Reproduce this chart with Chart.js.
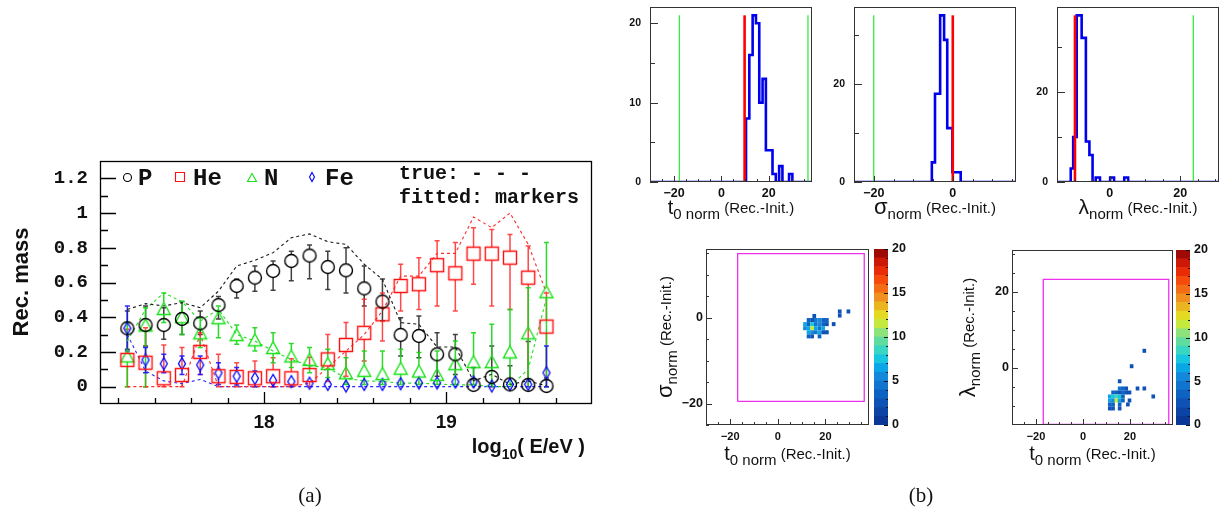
<!DOCTYPE html>
<html>
<head>
<meta charset="utf-8">
<script src="https://cdn.jsdelivr.net/npm/chart.js@4.4.1/dist/chart.umd.min.js"></script>
<style>
  html, body { margin: 0; padding: 0; background: #fff; }
  #stage { position: relative; width: 1232px; height: 522px; overflow: hidden; }
  #stage canvas { position: absolute; left: 0; top: 0; }
  .cap { position: absolute; top: 483px; font-family: 'Liberation Serif', 'DejaVu Serif', serif; font-size: 21px; color: #111; transform: translateX(-50%); }
</style>
</head>
<body>
<div id="stage">
  <canvas id="massChart" width="1232" height="522"></canvas>
  <canvas id="t0Hist" width="1232" height="522"></canvas>
  <canvas id="sigHist" width="1232" height="522"></canvas>
  <canvas id="lamHist" width="1232" height="522"></canvas>
  <canvas id="sigMap" width="1232" height="522"></canvas>
  <canvas id="sigScale" width="1232" height="522"></canvas>
  <canvas id="lamMap" width="1232" height="522"></canvas>
  <canvas id="lamScale" width="1232" height="522"></canvas>
  <div class="cap" style="left:310px">(a)</div>
  <div class="cap" style="left:921px">(b)</div>
</div>
<script>
const SANS = "'Liberation Sans', Arial, sans-serif";
const MONO = "'Liberation Mono', 'Courier New', monospace";
Chart.defaults.font.family = SANS;
Chart.defaults.color = "#111";

// ---------- (a) reconstructed mass vs energy ----------
const logE = [17.25, 17.35, 17.45, 17.55, 17.65, 17.75, 17.85, 17.95, 18.05, 18.15, 18.25, 18.35,
              18.45, 18.55, 18.65, 18.75, 18.85, 18.95, 19.05, 19.15, 19.25, 19.35, 19.45, 19.55];

const fitP   = [0.336, 0.355, 0.355, 0.39, 0.365, 0.47, 0.58, 0.628, 0.666, 0.724, 0.755, 0.689, 0.67, 0.566, 0.49, 0.298, 0.292, 0.186, 0.186, 0.01, 0.056, 0.013, 0.01, 0.004];
const fitPHi = [0.436, 0.465, 0.455, 0.49, 0.436, 0.52, 0.62, 0.695, 0.724, 0.78, 0.816, 0.78, 0.80, 0.695, 0.62, 0.397, 0.407, 0.31, 0.30, 0.11, 0.234, 0.12, 0.26, 0.05];
const fitPLo = [0.215, 0.234, 0.273, 0.30, 0.30, 0.39, 0.51, 0.55, 0.555, 0.61, 0.622, 0.56, 0.54, 0.465, 0.38, 0.177, 0.167, 0.06, 0.07, 0, 0, 0, 0, 0];
const trueP  = [0.445, 0.478, 0.465, 0.484, 0.455, 0.55, 0.695, 0.728, 0.772, 0.858, 0.88, 0.835, 0.82, 0.705, 0.618, 0.369, 0.359, 0.228, 0.228, 0.033, 0.071, 0.013, 0.033, 0.004];

const fitHe   = [0.154, 0.138, 0.048, 0.067, 0.20, 0.06, 0.056, 0.048, 0.06, 0.048, 0.067, 0.157, 0.24, 0.31, 0.417, 0.58, 0.59, 0.70, 0.653, 0.766, 0.766, 0.743, 0.628, 0.346];
const fitHeHi = [0.33, 0.34, 0.24, 0.225, 0.31, 0.186, 0.138, 0.148, 0.167, 0.16, 0.17, 0.30, 0.37, 0.503, 0.54, 0.705, 0.743, 0.84, 0.83, 0.916, 0.906, 0.877, 0.81, 0.54];
const fitHeLo = [0, 0, 0, 0, 0.07, 0, 0, 0, 0, 0, 0, 0.03, 0.06, 0.148, 0.263, 0.436, 0.445, 0.465, 0.436, 0.59, 0.465, 0.445, 0, 0];
const trueHe  = [0, 0, 0, 0, 0.30, 0, 0, 0, 0, 0, 0.02, 0.11, 0.205, 0.30, 0.436, 0.637, 0.637, 0.768, 0.768, 0.977, 0.916, 1.0, 0.82, 0.54];

const fitN   = [0.177, 0.355, 0.45, 0.403, 0.31, 0.397, 0.30, 0.27, 0.225, 0.177, 0.157, 0.134, 0.08, 0.094, 0.075, 0.106, 0.09, 0.071, 0.132, 0.144, 0.144, 0.20, 0.31, 0.547];
const fitNHi = [0.37, 0.455, 0.54, 0.49, 0.397, 0.465, 0.355, 0.34, 0.31, 0.248, 0.225, 0.215, 0.167, 0.205, 0.205, 0.215, 0.196, 0.205, 0.263, 0.31, 0.36, 0.445, 0.57, 0.83];
const fitNLo = [0, 0, 0.37, 0.30, 0.225, 0.282, 0.244, 0.205, 0.138, 0.11, 0.08, 0.052, 0.013, 0.013, 0.013, 0.013, 0.013, 0.013, 0.013, 0.013, 0.013, 0.013, 0, 0];
const trueN  = [0.263, 0.445, 0.54, 0.49, 0.378, 0.445, 0.30, 0.263, 0.205, 0.157, 0.12, 0.11, 0.048, 0.033, 0.03, 0.02, 0.02, 0.015, 0.01, 0.01, 0, 0, 0.1, 0.51];

const fitFe   = [0.336, 0.154, 0.132, 0.132, 0.125, 0.079, 0.06, 0.048, 0.036, 0.029, 0.02, 0.013, 0.004, 0.013, 0.013, 0.017, 0.021, 0.021, 0.027, 0.027, 0.004, 0.013, 0.013, 0.08];
const fitFeHi = [0.465, 0.225, 0.186, 0.177, 0.177, 0.138, 0.11, 0.09, 0.07, 0.06, 0.05, 0.04, 0.03, 0.04, 0.04, 0.04, 0.045, 0.045, 0.05, 0.05, 0.03, 0.04, 0.04, 0.234];
const fitFeLo = [0.205, 0.08, 0.08, 0.07, 0.07, 0.013, 0.01, 0, 0, 0, 0, 0, 0, 0, 0, 0, 0, 0, 0, 0, 0, 0, 0, 0];
const trueFe  = [0.30, 0.09, 0.033, 0.017, 0.042, 0, 0, 0, 0, 0, 0, 0, 0, 0, 0, 0, 0, 0, 0, 0, 0, 0, 0, 0];

const massTicks      = [0, 0.2, 0.4, 0.6, 0.8, 1.0, 1.2];
const massTickLabels = ["0", "0.2", "0.4", "0.6", "0.8", "1", "1.2"];
const massMinor      = [0.1, 0.3, 0.5, 0.7, 0.9, 1.1];
const energyTicks    = [18, 19];
const energyLabels   = ["18", "19"];
const energyMinor    = [17.2, 17.4, 17.6, 17.8, 18.2, 18.4, 18.6, 18.8, 19.2, 19.4, 19.6];

// ---------- (b) histograms of the normalised parameters ----------
const t0Edges  = [10.4, 11.8, 13.2, 14.6, 16.0, 17.4, 18.8, 20.2, 21.6, 23.0, 24.4, 25.8, 27.2, 28.6, 30.0];
const t0Counts = [8, 16, 21, 20, 10, 13, 4, 4, 1, 0, 2, 0, 0, 1];
const sigEdges  = [-5.3, -4.5, -3.2, -2.2, -1.4, -0.1, 2.0];
const sigCounts = [4, 18, 34, 29, 11, 2];
const lamEdges  = [-11.1, -10.4, -9.4, -8.0, -6.8, -5.8, -4.9, -4.0, -2.8, 0.1, 1.2, 4.1, 5.2];
const lamCounts = [3, 10, 37, 32, 9, 6, 0, 1, 0, 1, 0, 1];

const t0Init = 9.8,  t0Bounds  = [-17.8, 36.6];
const sigInit = 0,   sigBounds = [-20];
const lamInit = -9.9, lamBounds = [23.7];

const t0Range = [-30.2, 38.3], sigRange = [-25, 16], lamRange = [-15, 31];

// 2D maps: cell centres and entries
const sigCellT0 = [15.3, 12.9, 14.4, 15.95, 17.5, 19.05, 20.6, 11.4, 12.9, 14.4, 15.95, 17.5, 19.05, 20.6, 23.45,
                   11.4, 12.9, 14.4, 15.95, 17.5, 19.05, 12.9, 14.4, 15.95, 17.5, 19.05, 20.6, 12.9, 14.4, 17.5, 26.0, 26.0, 29.65];
const sigCellY  = [0.4, -0.55, -0.55, -0.55, -0.55, -0.55, -0.55, -1.5, -1.5, -1.5, -1.5, -1.5, -1.5, -1.5, -1.5,
                   -2.45, -2.45, -2.45, -2.45, -2.45, -2.45, -3.4, -3.4, -3.4, -3.4, -3.4, -3.4, -4.35, -4.35, -4.35, 1.45, 0.5, 1.45];
const sigCellN  = [2, 3, 2, 4, 5, 3, 3, 6, 3, 7, 4, 5, 3, 2, 2,
                   5, 6, 11, 6, 4, 6, 6, 5, 4, 6, 2, 2, 3, 2, 3, 2, 2, 2];

const lamCellT0 = [15.6, 17.0, 18.4, 23.2, 26.1, 12.8, 14.2, 15.6, 17.0, 18.4, 19.8, 11.4, 12.8, 14.2, 15.6, 17.0, 29.9,
                   11.4, 12.8, 14.2, 15.6, 17.0, 19.8, 11.4, 12.8, 15.6, 19.1, 11.4, 12.8, 15.6, 15.6, 20.7, 26.1];
const lamCellY  = [-5.4, -5.4, -5.4, -5.4, -5.4, -6.45, -6.45, -6.45, -6.45, -6.45, -6.45, -7.5, -7.5, -7.5, -7.5, -7.5, -7.5,
                   -8.55, -8.55, -8.55, -8.55, -8.55, -8.55, -9.6, -9.6, -9.6, -9.6, -10.65, -10.65, -10.65, -3.5, 0.45, 4.5];
const lamCellN  = [4, 3, 2, 2, 2, 3, 3, 2, 3, 2, 2, 6, 7, 8, 7, 3, 2,
                   6, 5, 11, 6, 3, 2, 3, 3, 3, 2, 2, 2, 2, 2, 2, 2];

const sigBox = { t0: [-16.9, 36.3], y: [-19.5, 14.9] };
const lamBox = { t0: [-16.9, 36.5], y: [-14.85, 23.3] };

const zLevels = [0, 1, 2, 3, 4, 5, 6, 7, 8, 9, 10, 11, 12, 13, 14, 15, 16, 17, 18, 19, 20];
const zLabels = ["0", "5", "10", "15", "20"];
const palette = ["#0b3896", "#0c44a6", "#0d52b4", "#0e62c2", "#1174cf", "#1488da", "#0aa6e6", "#18c6e0", "#3ad6c4", "#5fdc9e",
                 "#8ee27a", "#c4ea3e", "#e4da22", "#ebb522", "#f09020", "#f46c16", "#f44a0c", "#e82c08", "#cc1806", "#9e0a06"];

// ---------- helpers ----------
// chart area = frame box; axis boxes sit just outside it
function pad(l, t, r, b, yBox, xBox, rBox) {
  return { left: l - (yBox || 0), top: t, right: 1232 - r - (rBox || 0), bottom: 522 - b - (xBox || 0) };
}

function axis(position, min, max, values, labels, font, padding, box) {
  return {
    type: "linear", position, min, max,
    afterBuildTicks: s => { s.ticks = values.map(v => ({ value: v })); },
    afterFit: s => {
      if (s.isHorizontal()) s.height = box; else s.width = box;
      s.paddingLeft = s.paddingRight = s.paddingTop = s.paddingBottom = 0;
    },
    grid: { display: false, drawTicks: false },
    border: { display: false },
    ticks: { font, color: "#111", padding, autoSkip: false, maxRotation: 0, minRotation: 0,
             callback: (v, i) => labels[i] }
  };
}

function neg(v) { return v < 0 ? "\u2212" + Math.abs(v) : String(v); }

function drawRich(ctx, spec) {
  ctx.save();
  ctx.translate(spec.x, spec.y);
  if (spec.rot) ctx.rotate(spec.rot);
  const fonts = spec.parts.map(p => `${p.weight || "normal"} ${p.size}px ${p.family || SANS}`);
  const widths = spec.parts.map((p, i) => { ctx.font = fonts[i]; return ctx.measureText(p.t).width; });
  const total = widths.reduce((a, b) => a + b, 0);
  let x = spec.align === "center" ? -total / 2 : spec.align === "right" ? -total : 0;
  ctx.fillStyle = "#111";
  ctx.textBaseline = "alphabetic";
  spec.parts.forEach((p, i) => { ctx.font = fonts[i]; ctx.fillText(p.t, x, p.dy || 0); x += widths[i]; });
  ctx.restore();
}

// frame, inward tick marks and axis titles
function framePlugin(cfg) {
  return {
    id: "rootFrame",
    afterDraw(chart) {
      const { ctx, chartArea: a, scales } = chart;
      ctx.save();
      ctx.strokeStyle = cfg.color || "#222";
      ctx.lineWidth = cfg.width || 1;
      ctx.strokeRect(a.left + 0.5, a.top + 0.5, a.right - a.left - 1, a.bottom - a.top - 1);
      ctx.beginPath();
      const xs = scales.x, ys = scales.y;
      const xt = (list, len) => (list || []).forEach(v => {
        const p = Math.round(xs.getPixelForValue(v)) + 0.5;
        ctx.moveTo(p, a.bottom); ctx.lineTo(p, a.bottom - len);
      });
      const yt = (list, len) => (list || []).forEach(v => {
        const p = Math.round(ys.getPixelForValue(v)) + 0.5;
        ctx.moveTo(a.left, p); ctx.lineTo(a.left + len, p);
      });
      if (cfg.x) { xt(cfg.x.major, cfg.x.len[0]); xt(cfg.x.minor, cfg.x.len[1]); }
      if (cfg.y) { yt(cfg.y.major, cfg.y.len[0]); yt(cfg.y.minor, cfg.y.len[1]); }
      ctx.stroke();
      ctx.restore();
      (cfg.titles || []).forEach(t => drawRich(ctx, t));
    }
  };
}

function markerCanvas(kind, w, h, color, lw) {
  const c = document.createElement("canvas");
  c.width = Math.ceil(w + 2 * lw + 2); c.height = Math.ceil(h + 2 * lw + 2);
  const g = c.getContext("2d");
  const cx = c.width / 2, cy = c.height / 2;
  g.strokeStyle = color; g.lineWidth = lw;
  g.beginPath();
  if (kind === "circle") g.arc(cx, cy, w / 2, 0, Math.PI * 2);
  else if (kind === "square") g.rect(cx - w / 2, cy - h / 2, w, h);
  else if (kind === "triangle") { g.moveTo(cx, cy - h / 2); g.lineTo(cx + w / 2, cy + h / 2); g.lineTo(cx - w / 2, cy + h / 2); g.closePath(); }
  else { g.moveTo(cx, cy - h / 2); g.lineTo(cx + w / 2, cy); g.lineTo(cx, cy + h / 2); g.lineTo(cx - w / 2, cy); g.closePath(); }
  g.stroke();
  return c;
}

const colP = "#000000", colHe = "#ff1010", colN = "#18e018", colFe = "#0000ff";
const mkP  = markerCanvas("circle", 13, 13, colP, 1.4);
const mkHe = markerCanvas("square", 13, 13, colHe, 1.4);
const mkN  = markerCanvas("triangle", 13, 12, colN, 1.4);
const mkFe = markerCanvas("diamond", 7, 12, colFe, 1.3);

const pts = ys => logE.map((x, i) => ({ x, y: ys[i] }));

function fitted(label, ys, img) {
  return { label, data: pts(ys), showLine: false, pointStyle: img, pointRadius: 6, borderWidth: 0 };
}
function truth(label, ys, color) {
  return { label, data: pts(ys), showLine: true, pointRadius: 0, borderColor: color, borderWidth: 1.1, borderDash: [3, 3], tension: 0 };
}

const errorSeries = [
  { v: fitP,  hi: fitPHi,  lo: fitPLo,  color: "rgba(30,30,30,0.85)", gap: 6.5 },
  { v: fitHe, hi: fitHeHi, lo: fitHeLo, color: "rgba(255,40,40,0.85)", gap: 6.5 },
  { v: fitN,  hi: fitNHi,  lo: fitNLo,  color: "rgba(20,215,20,0.9)",  gap: 6 },
  { v: fitFe, hi: fitFeHi, lo: fitFeLo, color: "rgba(20,20,255,0.9)",  gap: 6 }
];

const errorBars = {
  id: "errorBars",
  beforeDatasetsDraw(chart) {
    const { ctx, scales: { x, y } } = chart;
    ctx.save();
    ctx.lineWidth = 1.5;
    errorSeries.forEach(s => {
      ctx.strokeStyle = s.color;
      ctx.beginPath();
      logE.forEach((e, i) => {
        const px = x.getPixelForValue(e), py = y.getPixelForValue(s.v[i]);
        const ph = y.getPixelForValue(s.hi[i]), pl = y.getPixelForValue(s.lo[i]);
        if (ph < py - s.gap) {
          ctx.moveTo(px, ph); ctx.lineTo(px, py - s.gap);
          ctx.moveTo(px - 2.5, ph); ctx.lineTo(px + 2.5, ph);
        }
        if (pl > py + s.gap) {
          ctx.moveTo(px, py + s.gap); ctx.lineTo(px, pl);
          ctx.moveTo(px - 2.5, pl); ctx.lineTo(px + 2.5, pl);
        }
      });
      ctx.stroke();
    });
    ctx.restore();
  }
};

const keyItems = [
  { img: markerCanvas("circle", 8, 8, colP, 1.1),   x: 127, label: "P",  lx: 138 },
  { img: markerCanvas("square", 9, 9, colHe, 1.1),  x: 180, label: "He", lx: 193 },
  { img: markerCanvas("triangle", 9, 8, colN, 1.1), x: 252, label: "N",  lx: 264 },
  { img: markerCanvas("diamond", 5, 9, colFe, 1.1), x: 312, label: "Fe", lx: 325 }
];

const massKey = {
  id: "massKey",
  afterDraw(chart) {
    const ctx = chart.ctx;
    ctx.save();
    ctx.fillStyle = "#111";
    ctx.textBaseline = "alphabetic";
    keyItems.forEach(k => {
      ctx.drawImage(k.img, Math.round(k.x - k.img.width / 2), Math.round(177 - k.img.height / 2));
      ctx.font = `bold 24px ${MONO}`;
      ctx.fillText(k.label, k.lx, 185);
    });
    ctx.font = `bold 20px ${MONO}`;
    ctx.fillText("true: - - -", 399, 179);
    ctx.fillText("fitted: markers", 399, 203);
    ctx.restore();
  }
};

new Chart(document.getElementById("massChart"), {
  type: "scatter",
  data: {
    datasets: [
      fitted("P", fitP, mkP), fitted("He", fitHe, mkHe), fitted("N", fitN, mkN), fitted("Fe", fitFe, mkFe),
      truth("P true", trueP, "#1a1a1a"), truth("He true", trueHe, "#ff2a2a"),
      truth("N true", trueN, "#22dd22"), truth("Fe true", trueFe, "#2a2aff")
    ]
  },
  options: {
    responsive: false, animation: false, events: [],
    layout: { padding: pad(100, 161, 592, 404, 70, 40) },
    plugins: { legend: { display: false }, tooltip: { enabled: false } },
    scales: {
      x: axis("bottom", 17.1, 19.8, energyTicks, energyLabels, { family: SANS, size: 19, weight: "bold" }, 7, 40),
      y: axis("left", -0.1, 1.3, massTicks, massTickLabels, { family: MONO, size: 19, weight: "bold" }, 12, 70)
    }
  },
  plugins: [errorBars, massKey, framePlugin({
    color: "#000", width: 1.3,
    x: { major: energyTicks, minor: energyMinor, len: [12, 6] },
    y: { major: massTicks, minor: massMinor, len: [16, 8] },
    titles: [
      { x: 585, y: 453, align: "right", parts: [
        { t: "log", size: 20, weight: "bold" }, { t: "10", size: 14, weight: "bold", dy: 6 },
        { t: "( E/eV )", size: 20, weight: "bold" }] },
      { x: 28, y: 282, rot: -Math.PI / 2, align: "center", parts: [{ t: "Rec. mass", size: 22, weight: "bold" }] }
    ]
  })]
});

// ---------- 1D histograms ----------
function histPoints(edges, counts, range) {
  const out = [{ x: range[0], y: 0 }];
  edges.forEach((e, i) => out.push({ x: e, y: i < counts.length ? counts[i] : 0 }));
  out.push({ x: range[1], y: 0 });
  return out;
}
function vline(x, top, color, w) {
  return { data: [{ x, y: 0 }, { x, y: top }], borderColor: color, borderWidth: w, pointRadius: 0 };
}
function titleParts(sym, sub, symSize) {
  return [{ t: sym, size: symSize }, { t: sub, size: 15, dy: 5 }, { t: " (Rec.-Init.)", size: 15, dy: -1 }];
}

const xLabFont = { family: SANS, size: 12.5, weight: "bold" };
const yLabFont = { family: SANS, size: 10.5, weight: "bold" };

function histChart(id, box, range, yMax, edges, counts, init, bounds, xMajor, xMinor, yMajor, yMinor, title) {
  const top = Math.max(...counts);
  new Chart(document.getElementById(id), {
    type: "line",
    data: {
      datasets: [
        vline(init, top, "#ff0000", 2.6),
        ...bounds.map(b => vline(b, top, "#2ee82e", 1.2)),
        { data: histPoints(edges, counts, range), stepped: true, borderColor: "#0000ee", borderWidth: 2.6, pointRadius: 0 }
      ]
    },
    options: {
      responsive: false, animation: false, events: [],
      layout: { padding: pad(box[0], box[1], box[2], box[3], 30, 20) },
      plugins: { legend: { display: false }, tooltip: { enabled: false } },
      scales: {
        x: axis("bottom", range[0], range[1], xMajor, xMajor.map(neg), xLabFont, 4, 20),
        y: axis("left", 0, yMax, yMajor, yMajor.map(String), yLabFont, 9, 30)
      }
    },
    plugins: [framePlugin({
      color: "#333",
      x: { major: xMajor, minor: xMinor, len: [6, 3] },
      y: { major: yMajor, minor: yMinor, len: [8, 5] },
      titles: [{ x: (box[0] + box[2]) / 2, y: 214, align: "center", parts: title }]
    })]
  });
}

histChart("t0Hist", [650, 7, 812, 182], t0Range, 22.05, t0Edges, t0Counts, t0Init, t0Bounds,
  [-20, 0, 20], [-25, -15, -10, -5, 5, 10, 15, 25, 30, 35], [0, 10, 20], [5, 15], titleParts("t", "0 norm", 20));
histChart("sigHist", [854, 7, 1016, 182], sigRange, 35.7, sigEdges, sigCounts, sigInit, sigBounds,
  [-20, 0], [-15, -10, -5, 5, 10, 15], [0, 20], [10, 30], titleParts("\u03c3", "norm", 22));
histChart("lamHist", [1057, 7, 1219, 182], lamRange, 38.85, lamEdges, lamCounts, lamInit, lamBounds,
  [0, 20], [-10, -5, 5, 10, 15, 25, 30], [0, 20], [10, 30], titleParts("\u03bb", "norm", 21));

// ---------- 2D maps with colour scales ----------
function cellPlugin(cx, cy, cn, w, h) {
  return {
    id: "heatCells",
    beforeDatasetsDraw(chart) {
      const { ctx, scales: { x, y } } = chart;
      ctx.save();
      cx.forEach((c, i) => {
        const x0 = x.getPixelForValue(c - w / 2), x1 = x.getPixelForValue(c + w / 2);
        const y0 = y.getPixelForValue(cy[i] + h / 2), y1 = y.getPixelForValue(cy[i] - h / 2);
        ctx.fillStyle = palette[Math.min(palette.length - 1, Math.floor(cn[i]))];
        ctx.fillRect(x0, y0, x1 - x0, y1 - y0);
      });
      ctx.restore();
    }
  };
}

function mapChart(id, box, yRange, cells, rect, yMajor, yMinor, ySym, yTitleX) {
  const [l, t, r, b] = box;
  new Chart(document.getElementById(id), {
    type: "line",
    data: {
      datasets: [{
        data: [
          { x: rect.t0[0], y: rect.y[0] }, { x: rect.t0[1], y: rect.y[0] }, { x: rect.t0[1], y: rect.y[1] },
          { x: rect.t0[0], y: rect.y[1] }, { x: rect.t0[0], y: rect.y[0] }
        ],
        borderColor: "#ee30ee", borderWidth: 1.3, pointRadius: 0, tension: 0
      }]
    },
    options: {
      responsive: false, animation: false, events: [],
      layout: { padding: pad(l, t, r, b, 36, 20) },
      plugins: { legend: { display: false }, tooltip: { enabled: false } },
      scales: {
        x: axis("bottom", t0Range[0], t0Range[1], [-20, 0, 20], ["\u221220", "0", "20"], { family: SANS, size: 11, weight: "bold" }, 5, 20),
        y: axis("left", yRange[0], yRange[1], yMajor, yMajor.map(neg), { family: SANS, size: 12.5, weight: "bold" }, 3, 36)
      }
    },
    plugins: [cellPlugin(cells[0], cells[1], cells[2], 1.55, cells[3]), framePlugin({
      color: "#333",
      x: { major: [-20, 0, 20], minor: [-25, -15, -10, -5, 5, 10, 15, 25, 30, 35], len: [6, 3] },
      y: { major: yMajor, minor: yMinor, len: [6, 3] },
      titles: [
        { x: (l + r) / 2, y: 460, align: "center", parts: titleParts("t", "0 norm", 20) },
        { x: yTitleX, y: (t + b) / 2, rot: -Math.PI / 2, align: "center", parts: titleParts(ySym, "norm", 22) }
      ]
    })]
  });
}

function scaleChart(id, box) {
  const [l, t, r, b] = box;
  new Chart(document.getElementById(id), {
    type: "bar",
    data: {
      labels: [""],
      datasets: palette.map((c, i) => ({
        data: [zLevels[i + 1] - zLevels[i]], backgroundColor: c, borderWidth: 0,
        barPercentage: 1, categoryPercentage: 1
      }))
    },
    options: {
      responsive: false, animation: false, events: [],
      layout: { padding: pad(l, t, r, b, 0, 0, 30) },
      plugins: { legend: { display: false }, tooltip: { enabled: false } },
      scales: {
        x: { stacked: true, display: false },
        y: Object.assign(axis("right", 0, 20, [0, 5, 10, 15, 20], zLabels,
              { family: SANS, size: 12.5, weight: "bold" }, 4, 30), { stacked: true })
      }
    },
    plugins: [{
      id: "zTicks",
      afterDraw(chart) {
        const { ctx, chartArea: a, scales: { y } } = chart;
        ctx.save();
        ctx.strokeStyle = "#111"; ctx.lineWidth = 1;
        ctx.beginPath();
        zLevels.forEach(v => {
          const p = Math.round(y.getPixelForValue(v)) + 0.5;
          const len = v % 5 === 0 ? 4 : 2;
          ctx.moveTo(a.right, p); ctx.lineTo(a.right - len, p);
        });
        ctx.stroke();
        ctx.restore();
      }
    }]
  });
}

mapChart("sigMap", [706, 249, 869, 425], sigRange, [sigCellT0, sigCellY, sigCellN, 0.94], sigBox,
  [-20, 0], [-25, -15, -10, -5, 5, 10, 15], "\u03c3", 672);
scaleChart("sigScale", [874, 249, 888, 425]);
mapChart("lamMap", [1012, 250, 1173, 425], lamRange, [lamCellT0, lamCellY, lamCellN, 1.05], lamBox,
  [0, 20], [-10, -5, 5, 10, 15, 25, 30], "\u03bb", 975);
scaleChart("lamScale", [1176, 250, 1190, 425]);
</script>
</body>
</html>
